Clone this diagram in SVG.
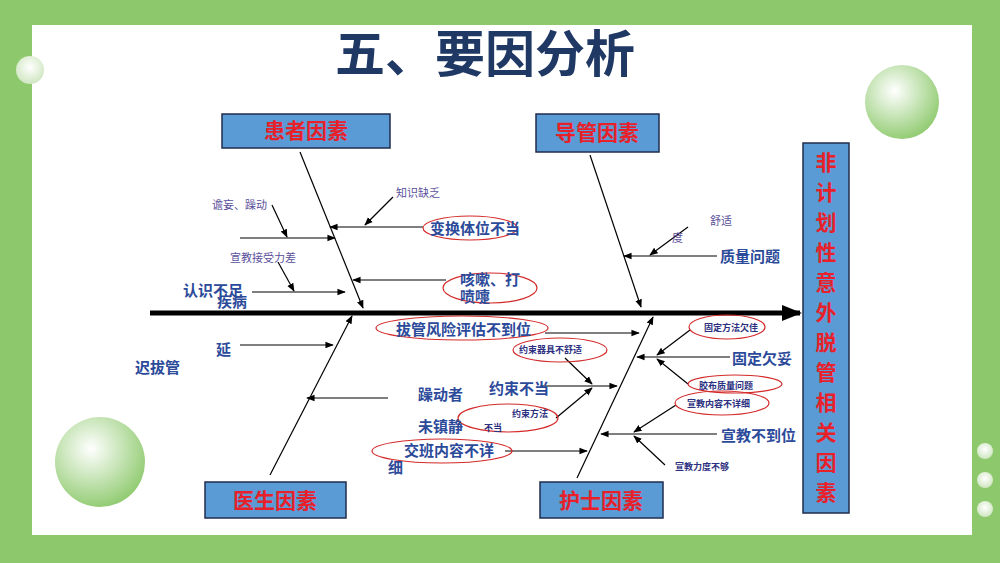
<svg xmlns="http://www.w3.org/2000/svg" width="1000" height="563" viewBox="0 0 1000 563">
<defs>
<marker id="a" viewBox="0 0 10 10" refX="9" refY="5" markerWidth="7" markerHeight="7" orient="auto"><path d="M0,1L10,5L0,9z" fill="#000"/></marker>
<marker id="big" viewBox="0 0 10 10" refX="9" refY="5" markerWidth="4" markerHeight="4" orient="auto"><path d="M0,1L10,5L0,9z" fill="#000"/></marker>
<radialGradient id="g" cx="0.4" cy="0.35" r="0.7"><stop offset="0" stop-color="#ffffff"/><stop offset="1" stop-color="#8dc96c"/></radialGradient>
<radialGradient id="g2" cx="0.5" cy="0.4" r="0.6"><stop offset="0" stop-color="#ffffff"/><stop offset="1" stop-color="#cfe6c0"/></radialGradient>
</defs>
<style>
text{font-family:"Noto Sans CJK SC","Liberation Sans",sans-serif}
.box{fill:#5b9bd5;stroke:#1f2d4d;stroke-width:1.5}
.bt{fill:#e8202a;font-size:21px;font-weight:bold;text-anchor:middle}
.b{fill:#2c4a9a;font-size:15px;font-weight:bold}
.s{fill:#5a4f9a;font-size:11px}
.x{fill:#2c3080;font-size:9px;font-weight:bold}
.ln{stroke:#000;stroke-width:1.2;fill:none}
.el{fill:none;stroke:#d42a2a;stroke-width:1.2}
</style>
<rect width="1000" height="563" fill="#8dc96c"/>
<rect x="32" y="25" width="940" height="510" fill="#fff"/>
<circle cx="30" cy="70" r="14" fill="url(#g2)"/>
<circle cx="902" cy="102" r="37" fill="url(#g)"/>
<circle cx="100" cy="462" r="45" fill="url(#g)"/>
<circle cx="985" cy="451" r="8" fill="url(#g2)"/>
<circle cx="985" cy="480" r="8" fill="url(#g2)"/>
<circle cx="985" cy="509" r="8" fill="url(#g2)"/>
<text x="485" y="72" text-anchor="middle" font-size="50" font-weight="bold" fill="#1f3864">五、要因分析</text>

<g id="n1"><rect class="box" x="222" y="114" width="168" height="34"/><text class="bt" x="306" y="138">患者因素</text></g>
<g id="n2"><rect class="box" x="536" y="114" width="123" height="38"/><text class="bt" x="597" y="140">导管因素</text></g>
<g id="n3"><rect class="box" x="205" y="482" width="141" height="36"/><text class="bt" x="275" y="508">医生因素</text></g>
<g id="n4"><rect class="box" x="540" y="482" width="123" height="36"/><text class="bt" x="601" y="508">护士因素</text></g>
<g id="n5"><rect class="box" x="803" y="143" width="46" height="370"/>
<text class="bt" font-size="22"><tspan x="826" y="170">非</tspan><tspan x="826" y="200">计</tspan><tspan x="826" y="230">划</tspan><tspan x="826" y="260">性</tspan><tspan x="826" y="290">意</tspan><tspan x="826" y="320">外</tspan><tspan x="826" y="350">脱</tspan><tspan x="826" y="380">管</tspan><tspan x="826" y="410">相</tspan><tspan x="826" y="440">关</tspan><tspan x="826" y="470">因</tspan><tspan x="826" y="500">素</tspan></text>
</g>

<g id="connectors">
<line x1="150" y1="313" x2="800" y2="313" stroke="#000" stroke-width="5" marker-end="url(#big)"/>
<line class="ln" x1="300" y1="152" x2="363" y2="308" marker-end="url(#a)"/>
<line class="ln" x1="590" y1="155" x2="641" y2="307" marker-end="url(#a)"/>
<line class="ln" x1="270" y1="475" x2="352" y2="316" marker-end="url(#a)"/>
<line class="ln" x1="577" y1="478" x2="653" y2="317" marker-end="url(#a)"/>
<line class="ln" x1="423" y1="227" x2="330" y2="227" marker-end="url(#a)"/>
<line class="ln" x1="393" y1="197" x2="365" y2="225" marker-end="url(#a)"/>
<line class="ln" x1="240" y1="238" x2="335" y2="238" marker-end="url(#a)"/>
<line class="ln" x1="272" y1="205" x2="287" y2="237" marker-end="url(#a)"/>
<line class="ln" x1="278" y1="262" x2="294" y2="291" marker-end="url(#a)"/>
<line class="ln" x1="252" y1="292" x2="345" y2="292" marker-end="url(#a)"/>
<line class="ln" x1="446" y1="280" x2="353" y2="280" marker-end="url(#a)"/>
<line class="ln" x1="717" y1="256" x2="624" y2="256" marker-end="url(#a)"/>
<line class="ln" x1="688" y1="227" x2="650" y2="255" marker-end="url(#a)"/>
<line class="ln" x1="545" y1="333" x2="639" y2="333" marker-end="url(#a)"/>
<line class="ln" x1="240" y1="345" x2="333" y2="345" marker-end="url(#a)"/>
<line class="ln" x1="388" y1="398" x2="307" y2="398" marker-end="url(#a)"/>
<line class="ln" x1="540" y1="386" x2="617" y2="386" marker-end="url(#a)"/>
<line class="ln" x1="565" y1="358" x2="592" y2="384" marker-end="url(#a)"/>
<line class="ln" x1="556" y1="418" x2="592" y2="388" marker-end="url(#a)"/>
<line class="ln" x1="505" y1="451" x2="587" y2="451" marker-end="url(#a)"/>
<line class="ln" x1="730" y1="357" x2="637" y2="357" marker-end="url(#a)"/>
<line class="ln" x1="690" y1="330" x2="657" y2="355" marker-end="url(#a)"/>
<line class="ln" x1="688" y1="384" x2="657" y2="359" marker-end="url(#a)"/>
<line class="ln" x1="717" y1="434" x2="601" y2="434" marker-end="url(#a)"/>
<line class="ln" x1="676" y1="405" x2="634" y2="432" marker-end="url(#a)"/>
<line class="ln" x1="665" y1="465" x2="634" y2="436" marker-end="url(#a)"/>
</g>

<g id="labels">
<ellipse class="el" cx="470" cy="228" rx="47" ry="12"/>
<ellipse class="el" cx="490" cy="288" rx="47" ry="15"/>
<ellipse class="el" cx="462" cy="328" rx="86" ry="12"/>
<ellipse class="el" cx="560" cy="350" rx="47" ry="12"/>
<ellipse class="el" cx="508" cy="418" rx="50" ry="14"/>
<ellipse class="el" cx="442" cy="451" rx="70" ry="12"/>
<ellipse class="el" cx="727" cy="327" rx="38" ry="12"/>
<ellipse class="el" cx="735" cy="384" rx="47" ry="9"/>
<ellipse class="el" cx="722" cy="403" rx="47" ry="12"/>
<text class="s" x="212" y="209">谵妄、躁动</text>
<text class="s" x="396" y="197">知识缺乏</text>
<text class="s" x="230" y="262">宣教接受力差</text>
<text class="b" x="430" y="234" font-size="14">变换体位不当</text>
<text class="b" x="183" y="296">认识不足</text>
<text class="b" x="217" y="307">疾病</text>
<text class="b" x="460" y="285" font-size="14">咳嗽、打</text>
<text class="b" x="460" y="302" font-size="14">喷嚏</text>
<text class="s" x="710" y="225">舒适</text>
<text class="s" x="672" y="242">度</text>
<text class="b" x="720" y="262">质量问题</text>
<text class="b" x="396" y="335">拔管风险评估不到位</text>
<text class="x" x="519" y="353">约束器具不舒适</text>
<text class="b" x="216" y="355">延</text>
<text class="b" x="135" y="373">迟拔管</text>
<text class="b" x="418" y="400">躁动者</text>
<text class="b" x="489" y="394">约束不当</text>
<text class="b" x="418" y="432">未镇静</text>
<text class="x" x="512" y="417">约束方法</text>
<text class="x" x="484" y="431">不当</text>
<text class="b" x="404" y="456" font-size="14">交班内容不详</text>
<text class="b" x="388" y="473" font-size="14">细</text>
<text class="x" x="704" y="331">固定方法欠佳</text>
<text class="b" x="732" y="364">固定欠妥</text>
<text class="x" x="699" y="389">胶布质量问题</text>
<text class="x" x="687" y="407">宣教内容不详细</text>
<text class="b" x="721" y="441">宣教不到位</text>
<text class="x" x="675" y="470">宣教力度不够</text>
</g>
</svg>
